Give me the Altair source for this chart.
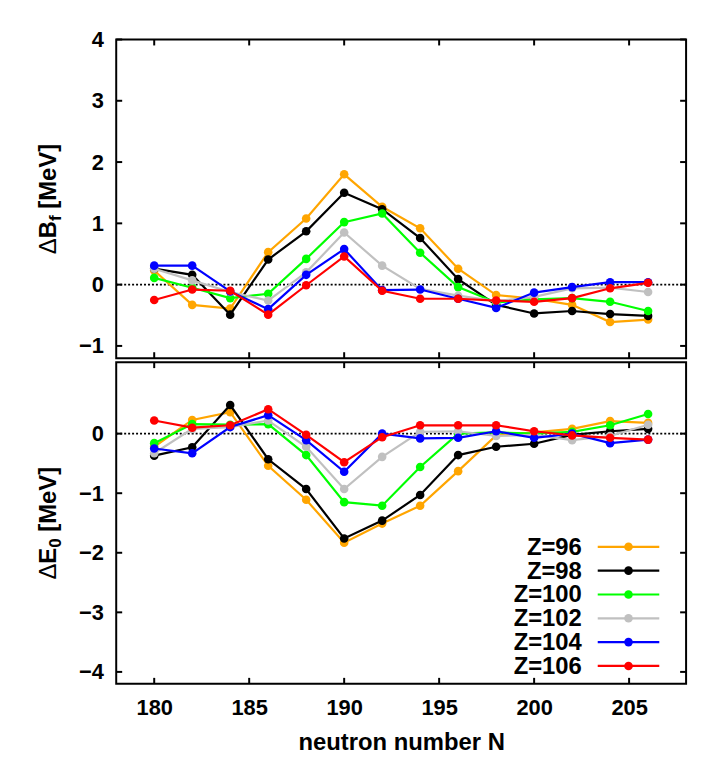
import altair as alt
import pandas as pd

# ---------------- data ----------------
N = [180, 182, 184, 186, 188, 190, 192, 194, 196, 198, 200, 202, 204, 206]
Z_LABELS = ["Z=96", "Z=98", "Z=100", "Z=102", "Z=104", "Z=106"]
COLORS = ["#FFA500", "#000000", "#00FF00", "#C0C0C0", "#0000FF", "#FF0000"]

dBf_96 = [0.23, -0.33, -0.39, 0.53, 1.08, 1.80, 1.27, 0.92, 0.26, -0.17, -0.23, -0.33, -0.61, -0.57]
dBf_98 = [0.26, 0.16, -0.49, 0.41, 0.87, 1.50, 1.23, 0.76, 0.09, -0.33, -0.47, -0.43, -0.48, -0.51]
dBf_100 = [0.11, -0.05, -0.22, -0.15, 0.42, 1.02, 1.16, 0.52, -0.04, -0.29, -0.24, -0.22, -0.28, -0.43]
dBf_102 = [0.26, 0.07, -0.12, -0.26, 0.20, 0.85, 0.31, -0.07, -0.18, -0.27, -0.20, -0.06, -0.05, -0.12]
dBf_104 = [0.31, 0.31, -0.11, -0.40, 0.16, 0.58, -0.09, -0.08, -0.23, -0.38, -0.13, -0.04, 0.04, 0.04]
dBf_106 = [-0.25, -0.08, -0.10, -0.49, -0.01, 0.46, -0.10, -0.23, -0.23, -0.26, -0.28, -0.22, -0.06, 0.03]

dE0_96 = [-0.22, 0.23, 0.36, -0.54, -1.11, -1.83, -1.51, -1.21, -0.63, -0.03, 0.02, 0.08, 0.21, 0.18]
dE0_98 = [-0.37, -0.23, 0.48, -0.43, -0.93, -1.76, -1.46, -1.03, -0.36, -0.22, -0.17, -0.02, 0.04, 0.08]
dE0_100 = [-0.16, 0.16, 0.15, 0.16, -0.36, -1.15, -1.21, -0.56, 0.00, 0.02, 0.00, 0.03, 0.14, 0.33]
dE0_102 = [-0.33, 0.08, 0.11, 0.22, -0.22, -0.93, -0.39, 0.03, 0.04, -0.04, -0.02, -0.11, -0.04, 0.15]
dE0_104 = [-0.25, -0.33, 0.11, 0.31, -0.11, -0.64, 0.00, -0.08, -0.07, 0.04, -0.07, 0.00, -0.16, -0.10]
dE0_106 = [0.22, 0.10, 0.14, 0.41, -0.02, -0.48, -0.06, 0.14, 0.14, 0.14, 0.04, -0.03, -0.07, -0.10]

X_TICKS = [180, 185, 190, 195, 200, 205]
YTOP_TICKS = [-1, 0, 1, 2, 3, 4]
YBOT_TICKS = [-4, -3, -2, -1, 0]

TITLE_TOP = ["Δ", "B", "f", "[MeV]"]
TITLE_BOT = ["Δ", "E", "0", "[MeV]"]
X_TITLE = "neutron number N"

# ---------------- layout / style ----------------
FONT = "Liberation Sans"
W = 574
H_TOP = 321
H_BOT = 324
TICK = 6


def long_df(series):
    rows = []
    for z, vals in zip(Z_LABELS, series):
        for n, v in zip(N, vals):
            rows.append({"N": n, "v": v, "Z": z})
    return pd.DataFrame(rows)


df_top = long_df([dBf_96, dBf_98, dBf_100, dBf_102, dBf_104, dBf_106])
df_bot = long_df([dE0_96, dE0_98, dE0_100, dE0_102, dE0_104, dE0_106])

color = alt.Color("Z:N", scale=alt.Scale(domain=Z_LABELS, range=COLORS), legend=None)


def ytitle(pieces, center, sub_w, main_w, delta_w):
    # pieces: [delta, letter, subscript, unit]
    above = sub_w + 6.7 + 65.3
    below = delta_w + main_w
    J = center + (above - below) / 2
    specs = [
        (pieces[0], 24, "normal", "right", J + main_w, -61),
        (pieces[1], 24, "bold", "right", J, -61),
        (pieces[2], 17, "bold", "left", J, -56),
        (pieces[3], 24, "bold", "left", J - sub_w - 6.7, -61),
    ]
    layers = []
    for txt, fs, fw, al, yy, xx in specs:
        layers.append(
            alt.Chart(pd.DataFrame({"t": [txt]}))
            .mark_text(angle=270, align=al, baseline="alphabetic", fontSize=fs,
                       fontWeight=fw, font=FONT, color="black")
            .encode(text="t:N", x=alt.value(xx), y=alt.value(yy))
        )
    return layers


def panel(df, ydomain, yticks, height, title_layers, bottom):
    xs = alt.Scale(domain=[178, 208], nice=False, zero=False)
    ys = alt.Scale(domain=ydomain, nice=False, zero=False)
    if bottom:
        xaxis = alt.Axis(values=X_TICKS, ticks=False, domain=False, grid=False,
                         labelFontSize=22, labelFont=FONT, labelFontWeight="bold",
                         labelColor="black", labelPadding=14,
                         title=X_TITLE, titleFontSize=24, titleFont=FONT,
                         titleFontWeight="bold", titleColor="black", titlePadding=12)
    else:
        xaxis = None
    yaxis = alt.Axis(values=yticks, ticks=False, domain=False, grid=False,
                     labelFontSize=22, labelFont=FONT, labelFontWeight="bold",
                     labelColor="black", labelPadding=13, title=None)
    X = alt.X("N:Q", scale=xs, axis=xaxis)
    Y = alt.Y("v:Q", scale=ys, axis=yaxis)

    layers = []
    layers.append(
        alt.Chart(pd.DataFrame({"v": [0]}))
        .mark_rule(color="black", strokeWidth=1.8, strokeDash=[2, 2])
        .encode(y=Y)
    )
    for z in Z_LABELS:
        sub = alt.Chart(df).transform_filter(alt.datum.Z == z)
        layers.append(sub.mark_line(strokeWidth=2.2).encode(x=X, y=Y, color=color))
        layers.append(sub.mark_circle(size=75, opacity=1).encode(x=X, y=Y, color=color))

    xt = alt.Chart(pd.DataFrame({"N": X_TICKS}))
    layers.append(xt.mark_rule(color="black", strokeWidth=2).encode(
        x=X, y=alt.value(0), y2=alt.value(TICK)))
    layers.append(xt.mark_rule(color="black", strokeWidth=2).encode(
        x=X, y=alt.value(height), y2=alt.value(height - TICK)))
    yt = alt.Chart(pd.DataFrame({"v": yticks}))
    layers.append(yt.mark_rule(color="black", strokeWidth=2).encode(
        y=Y, x=alt.value(0), x2=alt.value(TICK)))
    layers.append(yt.mark_rule(color="black", strokeWidth=2).encode(
        y=Y, x=alt.value(W), x2=alt.value(W - TICK)))
    layers += title_layers
    return alt.layer(*layers)


top = panel(df_top, [-1.2, 4], YTOP_TICKS, H_TOP,
            ytitle(TITLE_TOP, H_TOP / 2, 5.7, 17.3, 15.6), False).properties(width=W, height=H_TOP)

bot_main = panel(df_bot, [-4.2, 1.2], YBOT_TICKS, H_BOT,
                 ytitle(TITLE_BOT, H_BOT / 2, 9.5, 16.0, 15.6), True)

# legend drawn inside the lower panel
leg_df = pd.DataFrame({"Z": Z_LABELS, "row": list(range(len(Z_LABELS)))})
leg_y = alt.Y("row:Q", scale=alt.Scale(domain=[0, 5], range=[186, 306]), axis=None)
leg = alt.Chart(leg_df)
legend_layers = alt.layer(
    leg.mark_text(align="right", baseline="middle", fontSize=24, fontWeight="bold",
                  font=FONT, color="black", dy=1).encode(text="Z:N", x=alt.value(469), y=leg_y),
    leg.mark_rule(strokeWidth=2.2).encode(x=alt.value(485), x2=alt.value(547), y=leg_y, color=color),
    leg.mark_circle(size=75, opacity=1).encode(x=alt.value(516), y=leg_y, color=color),
)

bottom = alt.layer(bot_main, legend_layers).resolve_scale(y="independent").properties(
    width=W, height=H_BOT)

chart = alt.vconcat(top, bottom, spacing=0).properties(
    padding={"left": 27, "top": 17, "right": 10, "bottom": 0},
    background="white",
).configure_view(stroke="black", strokeWidth=2)

chart.save("out.html", embed_options={"renderer": "svg", "actions": False})
